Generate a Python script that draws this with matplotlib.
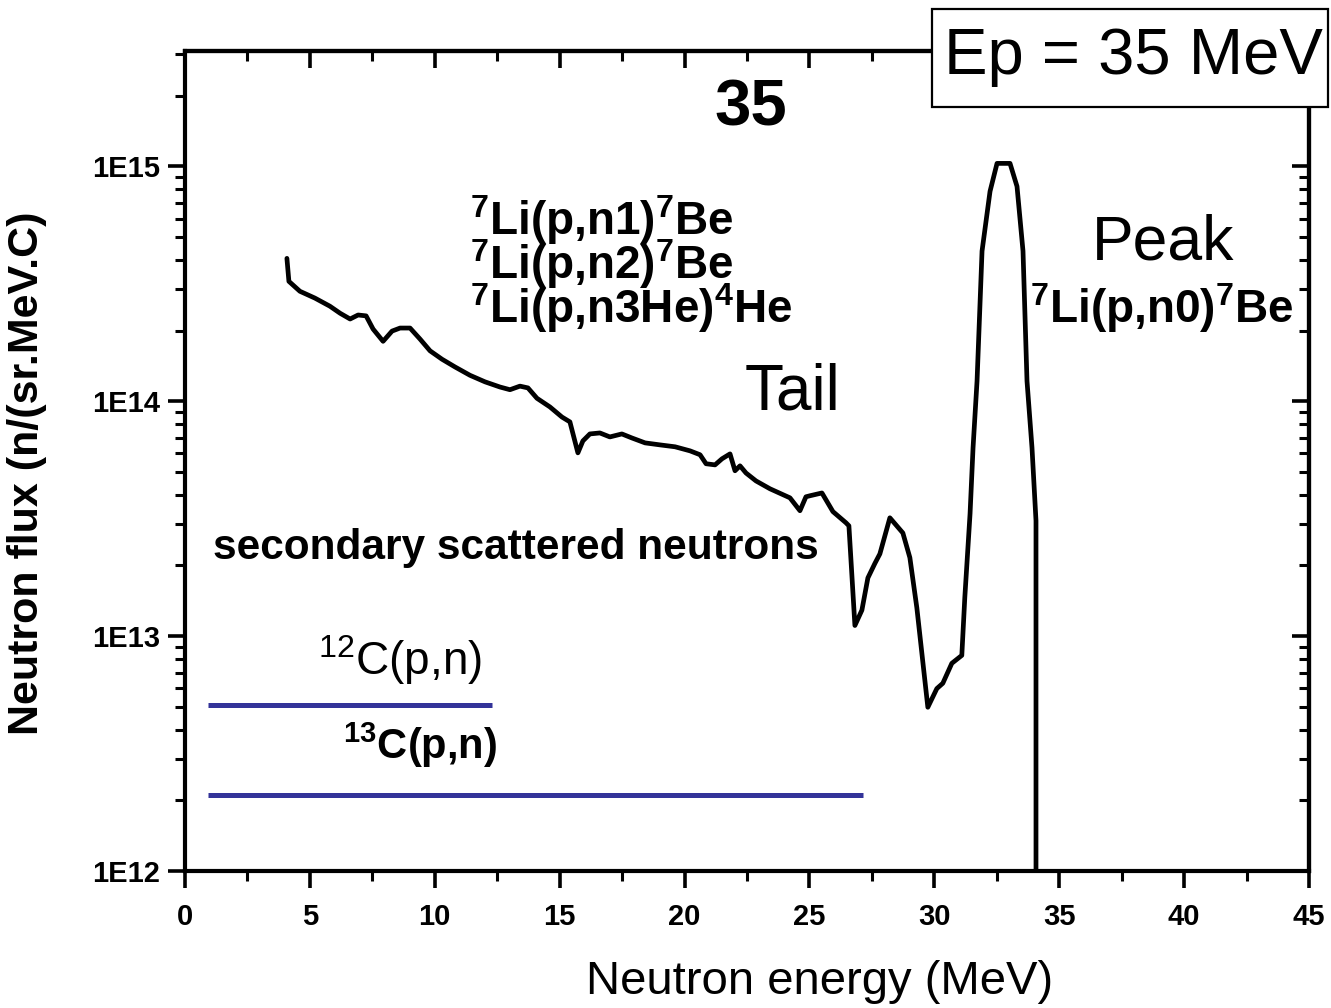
import numpy as np
import matplotlib
matplotlib.use("Agg")
import matplotlib.pyplot as plt
from matplotlib.ticker import FixedLocator, LogLocator, NullFormatter, FuncFormatter
from matplotlib.patches import Rectangle

plt.rcParams["font.family"] = ["Liberation Sans", "DejaVu Sans"]
plt.rcParams["mathtext.fontset"] = "custom"
plt.rcParams["mathtext.rm"] = "Liberation Sans"
plt.rcParams["mathtext.bf"] = "Liberation Sans:bold"

# ── data ─────────────────────────────────────────────────────────────────
energy = [4.08, 4.16, 4.60, 5.20, 5.80, 6.21, 6.61, 6.93, 7.25, 7.53, 7.93,
          8.29, 8.61, 9.01, 9.41, 9.81, 10.29, 10.81, 11.41, 12.01, 12.61,
          13.01, 13.41, 13.73, 14.09, 14.61, 15.09, 15.41, 15.73, 15.93,
          16.21, 16.61, 17.01, 17.49, 17.89, 18.42, 19.02, 19.62, 20.22,
          20.62, 20.86, 21.22, 21.50, 21.82, 22.02, 22.22, 22.46, 22.86,
          23.42, 24.22, 24.62, 24.86, 25.02, 25.50, 25.94, 26.46, 26.58,
          26.82, 27.10, 27.34, 27.62, 27.82, 28.22, 28.74, 29.02, 29.30,
          29.74, 30.10, 30.34, 30.70, 31.10, 31.22, 31.43, 31.55, 31.71,
          31.91, 32.23, 32.51, 33.03, 33.31, 33.55, 33.71, 33.91, 34.07, 34.07]
flux = [4.06e14, 3.24e14, 2.94e14, 2.75e14, 2.54e14, 2.37e14, 2.24e14,
        2.33e14, 2.31e14, 2.03e14, 1.80e14, 1.99e14, 2.05e14, 2.05e14,
        1.84e14, 1.64e14, 1.51e14, 1.40e14, 1.29e14, 1.21e14, 1.15e14,
        1.12e14, 1.16e14, 1.14e14, 1.03e14, 9.46e13, 8.57e13, 8.17e13,
        6.03e13, 6.78e13, 7.26e13, 7.33e13, 7.05e13, 7.26e13, 6.98e13,
        6.65e13, 6.52e13, 6.40e13, 6.15e13, 5.92e13, 5.42e13, 5.36e13,
        5.69e13, 5.97e13, 5.06e13, 5.31e13, 4.95e13, 4.58e13, 4.24e13,
        3.88e13, 3.42e13, 3.92e13, 3.96e13, 4.07e13, 3.39e13, 3.04e13,
        2.95e13, 1.11e13, 1.29e13, 1.77e13, 2.04e13, 2.24e13, 3.19e13,
        2.75e13, 2.16e13, 1.32e13, 4.98e12, 5.98e12, 6.30e12, 7.66e12,
        8.28e12, 1.46e13, 3.32e13, 6.34e13, 1.22e14, 4.36e14, 7.83e14,
        1.03e15, 1.03e15, 8.22e14, 4.36e14, 1.22e14, 6.34e13, 3.10e13, 1e10]

c12_x = [0.92, 12.29]
c12_y = [5.07e12, 5.07e12]
c13_x = [0.92, 27.14]
c13_y = [2.1e12, 2.1e12]

x_ticks = [0, 5, 10, 15, 20, 25, 30, 35, 40, 45]
y_ticks = [1e12, 1e13, 1e14, 1e15]
y_tick_labels = ["1E12", "1E13", "1E14", "1E15"]

W, H = 1331, 1008
fig = plt.figure(figsize=(W / 100, H / 100), dpi=100)
L, R, T, B = 185, 1309, 51, 871
ax = fig.add_axes([L / W, 1 - B / H, (R - L) / W, (B - T) / H])


def px(x, y):
    return x / W, 1 - y / H


ax.set_yscale("log")
ax.set_xlim(0, 45)
ax.set_ylim(1e12, 3.1e15)

ax.plot(energy, flux, color="black", lw=3.4, solid_joinstyle="round",
        solid_capstyle="round", zorder=3)
ax.plot(c12_x, c12_y, color="#333399", lw=3.6, solid_capstyle="butt")
ax.plot(c13_x, c13_y, color="#333399", lw=3.6, solid_capstyle="butt")

for s in ax.spines.values():
    s.set_linewidth(3)

ax.xaxis.set_major_locator(FixedLocator(x_ticks))
ax.xaxis.set_minor_locator(FixedLocator(np.arange(2.5, 45, 5)))
ax.yaxis.set_major_locator(FixedLocator(y_ticks))
ax.yaxis.set_minor_locator(LogLocator(base=10, subs=np.arange(2, 10)))
ax.yaxis.set_minor_formatter(NullFormatter())
ax.yaxis.set_major_formatter(FuncFormatter(
    lambda v, p: dict(zip(y_ticks, y_tick_labels)).get(v, "")))
ax.tick_params(which="major", direction="out", length=12, width=2.6,
               labelsize=21, pad=6)
ax.tick_params(which="minor", direction="out", length=7, width=2.2)
ax.tick_params(axis="x", pad=11)
for lab in ax.get_xticklabels() + ax.get_yticklabels():
    lab.set_fontweight("bold")

top = ax.secondary_xaxis("top")
top.xaxis.set_major_locator(FixedLocator(x_ticks))
top.xaxis.set_minor_locator(FixedLocator(np.arange(2.5, 45, 5)))
top.tick_params(which="major", direction="in", length=12, width=2.6, labeltop=False)
top.tick_params(which="minor", direction="in", length=7, width=2.2)
top.spines["top"].set_linewidth(3)

right = ax.secondary_yaxis("right")
right.yaxis.set_major_locator(FixedLocator(y_ticks))
right.yaxis.set_minor_locator(LogLocator(base=10, subs=np.arange(2, 10)))
right.yaxis.set_minor_formatter(NullFormatter())
right.tick_params(which="major", direction="in", length=12, width=2.6, labelright=False)
right.tick_params(which="minor", direction="in", length=7, width=2.2)
right.spines["right"].set_linewidth(3)

ax.set_xlabel("Neutron energy (MeV)", fontsize=34)
ax.xaxis.set_label_coords((820 - L) / (R - L), (B - 960) / (B - T))
ax.set_ylabel("Neutron flux (n/(sr.MeV.C)", fontsize=31, fontweight="bold")
ax.yaxis.set_label_coords((47 - L) / (R - L), (B - 473) / (B - T))

# annotations
fig.text(*px(751, 108), "35", fontsize=47, fontweight="bold",
         ha="center", va="center")
li_lines = "\n".join([
    r"$\mathbf{^{7}}$Li(p,n1)$\mathbf{^{7}}$Be",
    r"$\mathbf{^{7}}$Li(p,n2)$\mathbf{^{7}}$Be",
    r"$\mathbf{^{7}}$Li(p,n3He)$\mathbf{^{4}}$He",
])
fig.text(*px(470, 264), li_lines, fontsize=33, fontweight="bold",
         ha="left", va="center", linespacing=0.77)
fig.text(*px(1163, 243), "Peak", fontsize=45, ha="center", va="center")
fig.text(*px(1030, 308), r"$\mathbf{^{7}}$Li(p,n0)$\mathbf{^{7}}$Be",
         fontsize=33, fontweight="bold", ha="left", va="center")
fig.text(*px(792, 393), "Tail", fontsize=46, ha="center", va="center")
fig.text(*px(213, 548), "secondary scattered neutrons", fontsize=30.5,
         fontweight="bold", ha="left", va="center")
fig.text(*px(318, 660), r"$^{12}$C(p,n)", fontsize=33, ha="left", va="center")
fig.text(*px(343, 745), r"$\mathbf{^{13}}$C(p,n)", fontsize=30,
         fontweight="bold", ha="left", va="center")

# "Ep = 35 MeV" box over the top-right corner
bx0, bx1, by0, by1 = 932, 1328, 9, 107
fig.patches.append(Rectangle(px(bx0, by1), (bx1 - bx0) / W, (by1 - by0) / H,
                             transform=fig.transFigure, facecolor="white",
                             edgecolor="black", lw=1.6, zorder=10))
fig.text(*px((bx0 + bx1) / 2 + 3, 57), "Ep = 35 MeV", fontsize=47,
         ha="center", va="center", zorder=11)

fig.savefig("out.png", dpi=100)
